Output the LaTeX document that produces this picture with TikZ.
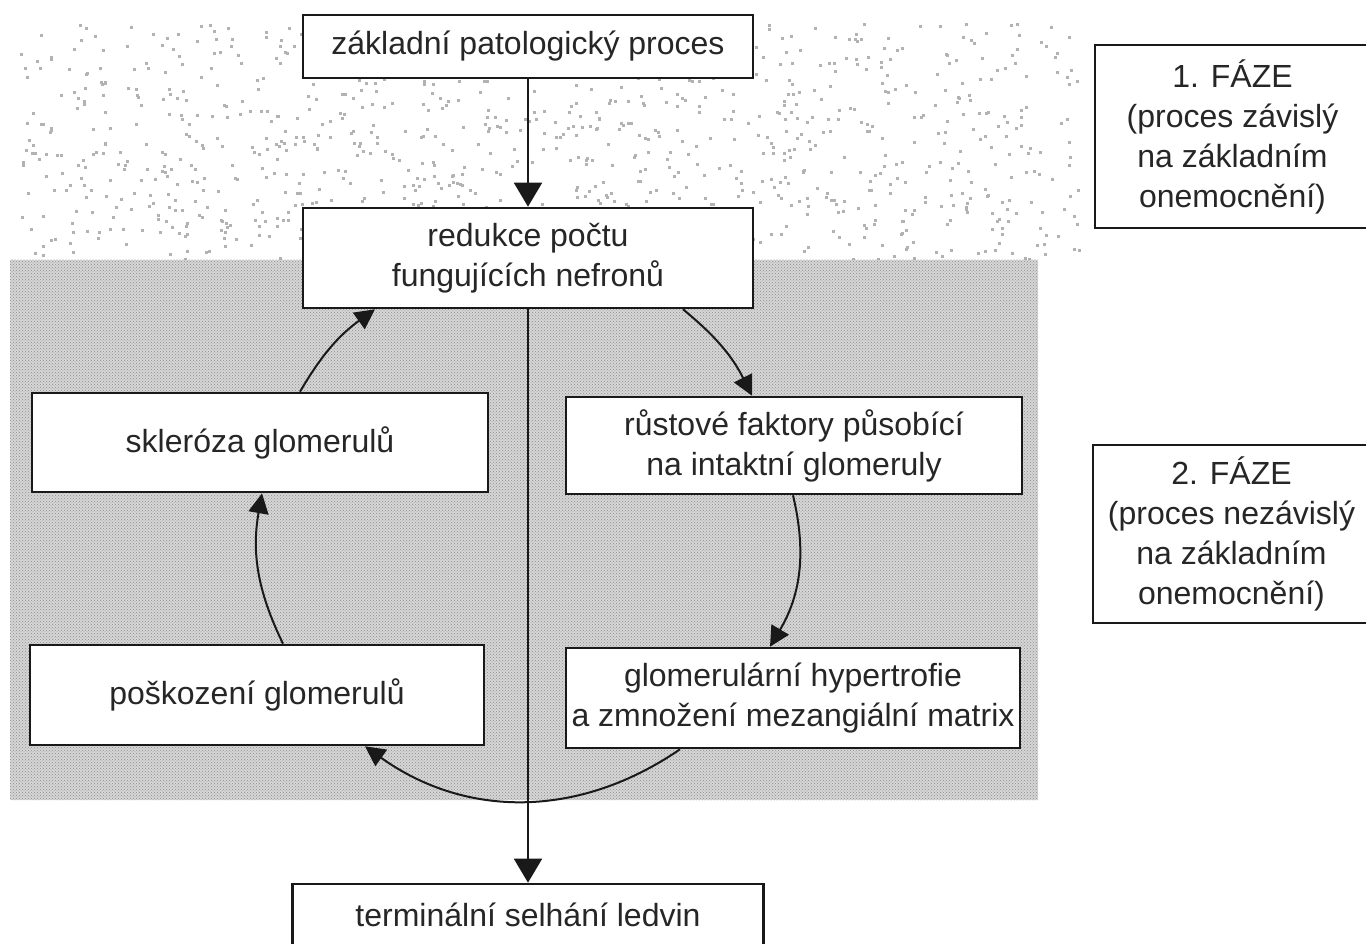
\documentclass[tikz,border=0pt]{standalone}
\usepackage{fontspec}
\setmainfont{Liberation Sans}
\usetikzlibrary{arrows.meta,patterns}
\begin{document}
\begin{tikzpicture}[x=1pt,y=-1pt,
  box/.style={draw=black!90, line width=2.6pt, fill=white, inner sep=0pt,
    align=center, font=\fontsize{32}{40}\selectfont, text=black!85},
  conn/.style={line width=2pt, draw=black!90},
  bigarr/.style={conn, -{Triangle[length=24pt,width=28pt]}},
  smallarr/.style={conn, -{Triangle[length=20pt,width=20pt]}}]
\useasboundingbox (0,0) rectangle (1366,944);
\clip (0,0) rectangle (1366,944);
% phase 1 background: sparse dots
\pgfmathsetseed{7}
\foreach \i in {1,...,1100}{
  \pgfmathsetmacro\rx{20+1060*rnd}
  \pgfmathsetmacro\ry{22+236*rnd}
  \fill[black!30] (\rx,\ry) rectangle ++(3,3);
}
% phase 2 background: dense stipple
\fill[black!16] (10,260) rectangle (1038,800);
\fill[pattern=crosshatch dots, pattern color=black!45] (10,260) rectangle (1038,800);
% boxes
\node[box, minimum width=450pt, minimum height=63pt] (A) at (528,46.5) {základní patologický proces};
\node[box, minimum width=450pt, minimum height=100pt] (B) at (528,258) {redukce počtu\\fungujících nefronů};
\node[box, minimum width=456pt, minimum height=99pt] (C) at (260,442.5) {skleróza glomerulů};
\node[box, minimum width=456pt, minimum height=97pt] (D) at (794,445.5) {růstové faktory působící\\na intaktní glomeruly};
\node[box, minimum width=454pt, minimum height=100pt] (E) at (257,695) {poškození glomerulů};
\node[box, minimum width=454pt, minimum height=100pt] (F) at (793,698) {glomerulární hypertrofie\\a zmnožení mezangiální matrix};
\node[box, minimum width=471pt, minimum height=62pt] (G) at (528,915) {terminální selhání ledvin};
\node[box, minimum width=275pt, minimum height=183pt] (P1) at (1232.5,136.5) {1. FÁZE\\(proces závislý\\na základním\\onemocnění)};
\node[box, minimum width=277pt, minimum height=178pt] (P2) at (1231.5,534) {2. FÁZE\\(proces nezávislý\\na základním\\onemocnění)};
% connectors
\draw[bigarr] (A) -- (B);
\draw[bigarr] (B) -- (G);
\draw[smallarr] ([xshift=40pt]C.north) to[bend left=12] ([xshift=-153pt]B.south);
\draw[smallarr] ([xshift=155pt]B.south) to[bend left=12] ([xshift=-42pt]D.north);
\draw[smallarr] ([xshift=-1pt]D.south) to[bend left=22] ([xshift=-23pt]F.north);
\draw[smallarr] ([xshift=26pt]E.north) to[bend left=18] ([xshift=2pt]C.south);
\draw[smallarr] ([xshift=-113pt]F.south) to[bend left=35] ([xshift=108pt]E.south);
\end{tikzpicture}
\end{document}
